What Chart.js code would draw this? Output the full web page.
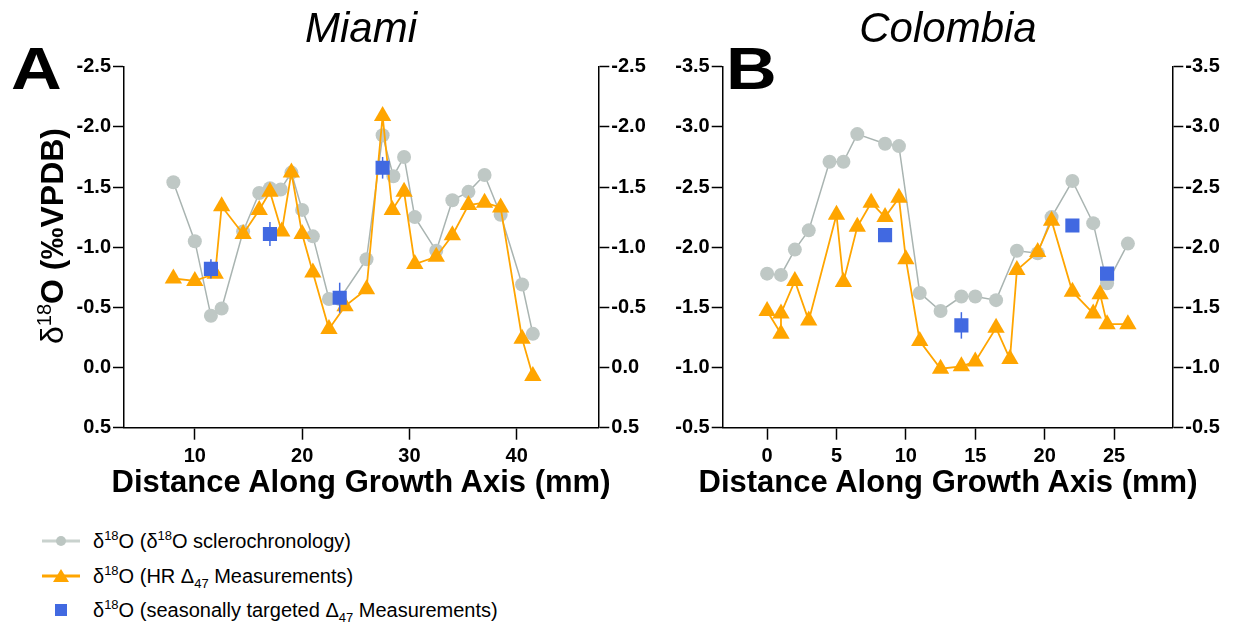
<!DOCTYPE html>
<html>
<head>
<meta charset="utf-8">
<script src="https://cdn.jsdelivr.net/npm/chart.js@4.4.0/dist/chart.umd.min.js"></script>
<style>
  html, body { margin: 0; padding: 0; background: #fff; }
  body { width: 1235px; height: 629px; position: relative; overflow: hidden;
         font-family: 'Liberation Sans', Arial, sans-serif; color: #000; }
  .wrap { position: absolute; top: 0; height: 470px; }
  #wrapA { left: 0; width: 655px; }
  #wrapB { left: 655px; width: 580px; }
  .site { position: absolute; font-style: italic; font-size: 42px; line-height: 42px;
          top: 7px; width: 400px; text-align: center; }
  .letter { position: absolute; font-weight: bold; font-size: 60px; line-height: 60px; top: 39px;
            transform: scaleX(1.17); transform-origin: left center; }
  .xtitle { position: absolute; font-weight: bold; font-size: 31px; line-height: 31px;
            top: 466px; width: 600px; text-align: center; }
  .ytitle { position: absolute; font-weight: bold; font-size: 32px; line-height: 32px;
            width: 300px; text-align: center; left: -98px; top: 220px; transform: rotate(-90deg); }
  .ytitle .d { font-weight: normal; }
  .ytitle sup { font-weight: normal; font-size: 20px; line-height: 0; vertical-align: 12px; }
  .legend .row { position: absolute; left: 0; height: 20px; }
  .legend svg { position: absolute; left: 38px; top: 0; }
  .legend span { position: absolute; left: 93px; top: 0; white-space: nowrap;
                 font-size: 20px; line-height: 20px; }
  .legend sup { font-size: 13px; line-height: 0; vertical-align: 8px; }
  .legend sub { font-size: 13px; line-height: 0; vertical-align: -5px; }
</style>
</head>
<body>
<div class="wrap" id="wrapA"><canvas id="chartA"></canvas></div>
<div class="wrap" id="wrapB"><canvas id="chartB"></canvas></div>

<div class="site" style="left:161px">Miami</div>
<div class="site" style="left:748px">Colombia</div>
<div class="letter" style="left:11px">A</div>
<div class="letter" style="left:726px">B</div>
<div class="xtitle" style="left:61px">Distance Along Growth Axis (mm)</div>
<div class="xtitle" style="left:648px">Distance Along Growth Axis (mm)</div>
<div class="ytitle"><span class="d">δ</span><sup>18</sup>O (‰VPDB)</div>

<div class="legend">
  <div class="row" style="top:531px">
    <svg width="46" height="20"><line x1="4" y1="10" x2="42" y2="10" stroke="#c9d2ce" stroke-width="3"/><circle cx="23" cy="10" r="5" fill="#bcc6c2"/></svg>
    <span>δ<sup>18</sup>O (δ<sup>18</sup>O sclerochronology)</span>
  </div>
  <div class="row" style="top:566px">
    <svg width="46" height="20"><line x1="4" y1="10" x2="42" y2="10" stroke="#ffa500" stroke-width="3"/><polygon points="23,3 31,16 15,16" fill="#ffa500"/></svg>
    <span>δ<sup>18</sup>O (HR Δ<sub>47</sub> Measurements)</span>
  </div>
  <div class="row" style="top:600px">
    <svg width="46" height="20"><rect x="17" y="4" width="12" height="12" fill="#4169e1"/></svg>
    <span>δ<sup>18</sup>O (seasonally targeted Δ<sub>47</sub> Measurements)</span>
  </div>
</div>

<script>
// Miami: δ18O sclerochronology (mm, ‰)
const miamiSclX = [8, 10, 11.5, 12.5, 14.5, 16, 17, 18, 19, 20, 21, 22.5, 23.5, 26, 27.5, 28.5, 29.5, 30.5, 32.5, 34, 35.5, 37, 38.5, 40.5, 41.5];
const miamiSclY = [-1.54, -1.05, -0.43, -0.49, -1.13, -1.45, -1.49, -1.48, -1.62, -1.31, -1.09, -0.57, -0.57, -0.90, -1.93, -1.59, -1.75, -1.25, -0.97, -1.39, -1.46, -1.60, -1.27, -0.69, -0.28];
// Miami: HR Δ47 δ18O
const miamiHrX = [8, 10, 11.9, 12.5, 14.5, 16, 17, 18.1, 19, 20, 21, 22.5, 24, 26, 27.5, 28.4, 29.5, 30.5, 32.5, 34, 35.5, 37, 38.5, 40.5, 41.5];
const miamiHrY = [-0.74, -0.72, -0.78, -1.34, -1.11, -1.31, -1.46, -1.13, -1.62, -1.11, -0.79, -0.32, -0.51, -0.65, -2.09, -1.31, -1.46, -0.86, -0.92, -1.10, -1.35, -1.37, -1.33, -0.24, 0.07];
// Miami: seasonally targeted Δ47 δ18O with error
const miamiSeasX = [11.5, 17, 23.5, 27.5];
const miamiSeasY = [-0.82, -1.11, -0.58, -1.66];
const miamiSeasErr = [0.08, 0.10, 0.125, 0.09];

// Colombia
const colSclX = [0, 1, 2, 3, 4.5, 5.5, 6.5, 8.5, 9.5, 11, 12.5, 14, 15, 16.5, 18, 19.5, 20.5, 22, 23.5, 24.5, 26];
const colSclY = [-1.78, -1.77, -1.98, -2.14, -2.71, -2.71, -2.94, -2.86, -2.84, -1.62, -1.47, -1.59, -1.59, -1.56, -1.97, -1.95, -2.25, -2.55, -2.20, -1.70, -2.03];
const colHrX = [0, 1, 1, 2, 3, 5, 5.5, 6.5, 7.5, 8.5, 9.5, 10, 11, 12.5, 14, 15, 16.5, 17.5, 18, 19.5, 20.5, 22, 23.5, 24, 24.5, 26];
const colHrY = [-1.47, -1.28, -1.45, -1.72, -1.39, -2.27, -1.71, -2.17, -2.37, -2.25, -2.41, -1.90, -1.22, -0.99, -1.01, -1.05, -1.33, -1.07, -1.81, -1.96, -2.22, -1.63, -1.45, -1.61, -1.36, -1.36];
const colSeasX = [8.5, 14, 22, 24.5];
const colSeasY = [-2.10, -1.35, -2.18, -1.78];
const colSeasErr = [0, 0.11, 0, 0];

// tick values
const miamiXTicks = [10, 20, 30, 40];
const miamiYTicks = [-2.5, -2.0, -1.5, -1.0, -0.5, 0.0, 0.5];
const colXTicks = [0, 5, 10, 15, 20, 25];
const colYTicks = [-3.5, -3.0, -2.5, -2.0, -1.5, -1.0, -0.5];

const GRAY_PT = '#bfc8c5';
const GRAY_LN = '#a9b4b1';
const ORANGE = '#ffa500';
const BLUE = '#4169e1';
const FONT = "'Liberation Sans', Arial, sans-serif";
const TICK_FONT = { size: 20, weight: 'bold' };

Chart.defaults.font.family = FONT;
Chart.defaults.color = '#000';

const pts = (xs, ys) => xs.map((x, i) => ({ x, y: ys[i] }));

// vertical error bars for datasets carrying an `errors` array
const errorBars = {
  id: 'errorBars',
  afterDatasetsDraw(chart) {
    const { ctx, scales: { x, y } } = chart;
    chart.data.datasets.forEach(ds => {
      if (!ds.errors) return;
      ctx.save();
      ctx.strokeStyle = ds.borderColor;
      ctx.lineWidth = 1.5;
      ds.data.forEach((p, i) => {
        const e = ds.errors[i];
        if (!e) return;
        const px = x.getPixelForValue(p.x);
        ctx.beginPath();
        ctx.moveTo(px, y.getPixelForValue(p.y - e));
        ctx.lineTo(px, y.getPixelForValue(p.y + e));
        ctx.stroke();
      });
      ctx.restore();
    });
  }
};

function axisStyle(tickLength) {
  return {
    grid: { drawOnChartArea: false, drawTicks: true, tickLength, tickWidth: 1.5, tickColor: '#000' },
    border: { display: true, color: '#000', width: 1.5 },
  };
}

function yScale(pos, yMin, yMax, yTicks, width) {
  return {
    type: 'linear', position: pos, reverse: true, min: yMin, max: yMax,
    afterBuildTicks: s => { s.ticks = yTicks.map(v => ({ value: v })); },
    afterFit: s => { s.width = width; },
    ticks: { color: '#000', padding: 2, font: TICK_FONT, callback: v => v.toFixed(1) },
    ...axisStyle(11),
  };
}

// area: plot box in page pixels; offset: left edge of the canvas on the page
function makePanel(id, offset, area, xRange, xTicks, yRange, yTicks, scl, hr, seas) {
  const canvas = document.getElementById(id);
  const W = canvas.parentNode.clientWidth, H = canvas.parentNode.clientHeight;
  return new Chart(canvas, {
    type: 'scatter',
    data: {
      datasets: [
        {
          label: 'seasonal', data: seas.data, errors: seas.err,
          borderColor: BLUE, backgroundColor: BLUE,
          pointStyle: 'rect', pointRadius: 10, borderWidth: 0, showLine: false, order: 0,
        },
        {
          label: 'HR', data: hr, showLine: true,
          borderColor: ORANGE, backgroundColor: ORANGE, borderWidth: 1.8,
          pointStyle: 'triangle', pointRadius: 10, pointBorderWidth: 0, order: 1,
        },
        {
          label: 'sclerochronology', data: scl, showLine: true,
          borderColor: GRAY_LN, backgroundColor: GRAY_PT, borderWidth: 1.5,
          pointStyle: 'circle', pointRadius: 7, pointBorderWidth: 0, order: 2,
        },
      ],
    },
    options: {
      responsive: true, maintainAspectRatio: false, animation: false,
      layout: { padding: { top: area.top, left: 0, right: 0, bottom: 0 } },
      plugins: { legend: { display: false }, tooltip: { enabled: false } },
      scales: {
        x: {
          type: 'linear', min: xRange[0], max: xRange[1],
          afterBuildTicks: s => { s.ticks = xTicks.map(v => ({ value: v })); },
          afterFit: s => { s.height = H - area.bottom; },
          ticks: { color: '#000', padding: 5, maxRotation: 0, font: TICK_FONT },
          ...axisStyle(12),
        },
        y: yScale('left', yRange[0], yRange[1], yTicks, area.left - offset),
        y2: yScale('right', yRange[0], yRange[1], yTicks, W - (area.right - offset)),
      },
    },
    plugins: [errorBars],
  });
}

makePanel('chartA', 0, { left: 124, right: 598.3, top: 66.7, bottom: 427.7 },
  [3.4, 47.6], miamiXTicks, [-2.5, 0.5], miamiYTicks,
  pts(miamiSclX, miamiSclY), pts(miamiHrX, miamiHrY),
  { data: pts(miamiSeasX, miamiSeasY), err: miamiSeasErr });

makePanel('chartB', 655, { left: 722.7, right: 1172.3, top: 66.7, bottom: 427.7 },
  [-3.2, 29.2], colXTicks, [-3.5, -0.5], colYTicks,
  pts(colSclX, colSclY), pts(colHrX, colHrY),
  { data: pts(colSeasX, colSeasY), err: colSeasErr });
</script>
</body>
</html>
